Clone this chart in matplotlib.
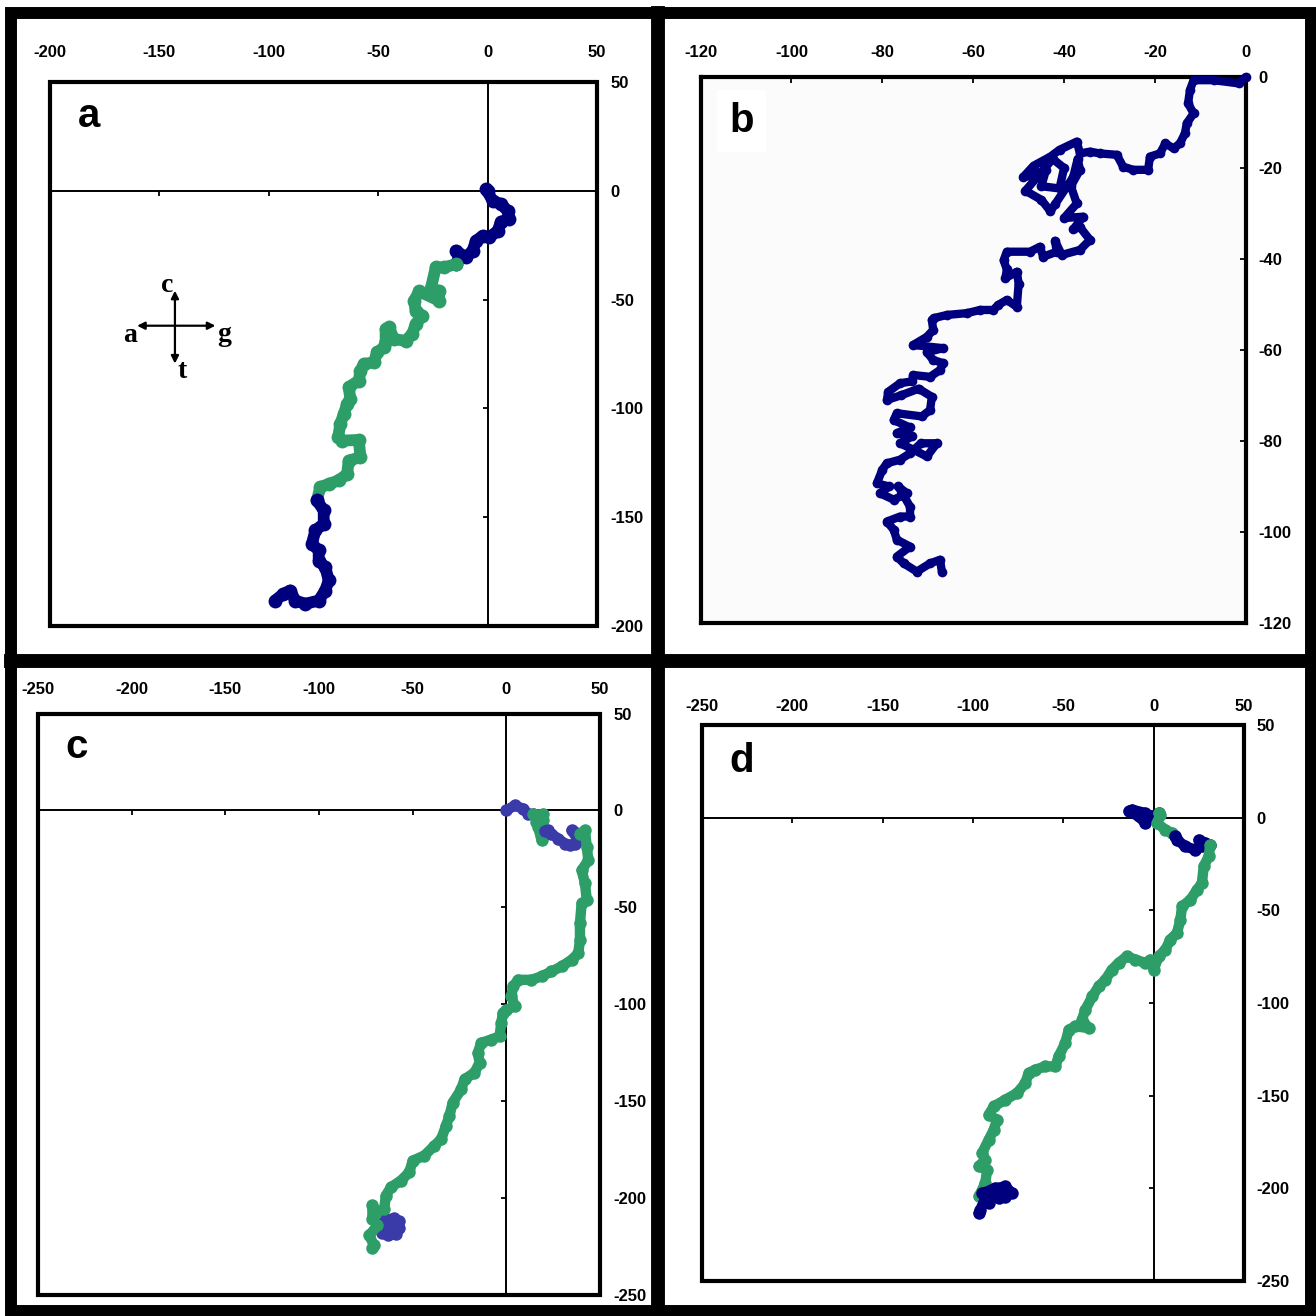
import matplotlib
matplotlib.use("Agg")
import matplotlib.pyplot as plt
from matplotlib.patches import Rectangle
from matplotlib.lines import Line2D

plt.rcParams['font.family'] = ['Liberation Sans', 'DejaVu Sans']
plt.rcParams['axes.unicode_minus'] = False

NAVY = '#00007f'
BLUE_C = '#3a3aa8'
GREEN = '#2e9e68'

# ---- panel a: walk coordinates ----
a_blue1_x = [0, -0.7, 2.3, 6.1, 9.2, 10.0, 6.1, 4.6, 0.8, -2.3, -5.3, -6.9, -9.9, -14.5, -13.0, -14.5]
a_blue1_y = [0, 0.8, -4.6, -6.1, -9.2, -13.0, -14.2, -18.4, -21.4, -20.7, -23.0, -27.5, -30.6, -27.5, -30.6, -33.7]
a_green_x = [-14.5, -19.9, -23.7, -26.0, -22.2, -22.2, -31.3, -33.6, -32.9, -29.8, -32.9, -34.4, -37.5,
             -42.8, -45.1, -46.6, -46.6, -47.4, -50.5, -52.0, -56.6, -58.1, -58.9, -63.5, -62.7, -64.2,
             -65.7, -67.3, -68.3, -66.5, -58.9, -58.1, -63.5, -64.2, -68.0, -72.6, -76.5, -78.0]
a_green_y = [-33.7, -35.2, -35.2, -45.1, -45.9, -50.5, -46.2, -50.5, -55.1, -57.4, -61.2, -65.8, -68.9,
             -68.2, -62.7, -63.5, -68.9, -71.9, -74.3, -78.8, -79.6, -82.6, -87.2, -90.3, -95.6, -98.0,
             -102.5, -107.1, -113.2, -114.8, -114.5, -122.4, -124.0, -130.1, -133.1, -134.7, -136.2, -142.3]
a_blue2_x = [-78.0, -74.9, -74.9, -78.7, -80.3, -77.2, -77.2, -74.2, -72.6, -74.2, -77.2, -83.3, -87.9,
             -90.2, -93.3, -97.1]
a_blue2_y = [-142.3, -146.9, -153.0, -156.1, -162.2, -165.3, -169.9, -173.0, -179.0, -183.7, -188.3,
             -189.8, -188.3, -183.7, -185.2, -188.3]

# ---- panel b ----
b_x = [0, -1.6, -7.1, -11.5, -12.3, -12.7, -11.5, -13.0, -13.4, -14.5, -15.9, -17.7, -18.9, -21.1, -21.5,
       -24.8, -27.0, -28.4, -32.1, -34.3, -36.5, -37.2, -41.0, -43.0, -46.7, -49.0, -46.0, -44.0, -45.0,
       -41.0, -40.0, -42.5, -48.5, -45.0, -43.0, -42.0, -38.0, -37.0, -36.5, -38.5, -37.2, -40.0, -35.8,
       -38.0, -36.5, -34.3, -36.5, -40.5, -42.0, -41.6, -44.6, -45.3, -47.5, -52.6, -53.3, -52.6, -52.9,
       -50.4, -50.0, -50.4, -52.6, -54.5, -55.6, -58.5, -61.4, -65.8, -68.7, -69.1, -68.8, -70.2, -73.2,
       -66.6, -70.2, -68.8, -66.6, -67.3, -69.5, -73.2, -73.5, -76.1, -78.7, -79.0, -76.0, -72.0, -69.1,
       -69.5, -71.3, -76.8, -77.5, -74.0, -76.8, -73.5, -76.1, -73.2, -70.2, -68.0, -71.5, -73.9, -76.1,
       -79.0, -80.0, -81.2, -78.5, -80.5, -77.5, -74.6, -76.5, -73.9, -73.9, -76.1, -79.0, -77.5, -76.8,
       -73.9, -76.8, -75.3, -72.4, -69.5, -67.3, -66.9]
b_y = [0, -1.4, -0.7, -0.7, -2.9, -5.8, -8.0, -10.2, -12.4, -14.6, -15.7, -14.6, -16.8, -17.5, -20.4,
       -20.4, -19.7, -17.1, -16.8, -16.4, -16.8, -14.2, -16.0, -17.5, -19.5, -22.0, -21.5, -20.5, -24.0,
       -24.5, -20.0, -18.0, -25.0, -27.0, -29.5, -28.0, -22.0, -18.0, -20.4, -24.0, -27.8, -31.0, -30.7,
       -33.5, -33.0, -35.8, -38.0, -39.1, -36.0, -38.4, -39.5, -37.3, -38.4, -38.4, -40.3, -42.3, -44.2,
       -42.8, -45.4, -50.5, -49.0, -50.1, -51.2, -51.2, -51.9, -52.3, -53.0, -53.4, -55.6, -57.1, -58.9,
       -59.6, -60.5, -62.2, -62.9, -64.4, -65.9, -65.5, -66.9, -67.3, -69.2, -71.0, -70.0, -68.5, -70.3,
       -73.2, -74.6, -73.9, -75.4, -77.0, -78.3, -79.0, -80.5, -81.9, -83.4, -80.5, -80.5, -82.7, -84.1,
       -84.9, -86.3, -89.3, -90.0, -91.5, -92.9, -91.5, -90.0, -94.4, -96.6, -96.6, -97.7, -99.5, -101.7,
       -103.2, -105.4, -106.9, -108.7, -106.9, -106.1, -108.7]

# ---- panel c ----
c_blue1_x = [0, 4.5, 8.9, 11.6, 14.5]
c_blue1_y = [0, 2.6, 0.9, -1.7, -2.0]
c_green1_x = [14.5, 17.0, 19.6, 19.6, 16.1, 17.0, 18.8, 20.5]
c_green1_y = [-2.0, -2.6, -1.7, -5.0, -6.0, -8.6, -15.4, -10.5]
c_blue2_x = [20.5, 22.3, 24.1, 27.7, 31.3, 33.9, 36.6, 38.4, 34.8, 39.3]
c_blue2_y = [-10.5, -10.3, -12.0, -14.6, -17.1, -18.0, -17.1, -15.4, -10.3, -12.0]
c_green2_x = [39.3, 42.0, 42.9, 43.8, 40.2, 42.0, 42.9, 40.2, 39.3, 39.3, 38.4, 34.8, 29.5, 24.1, 18.8,
              13.4, 6.3, 3.6, 2.7, 4.5, 0.0, -1.8, -2.7, -3.6, -8.0, -13.4, -15.2, -14.3, -17.0, -22.3,
              -24.1, -28.6, -30.4, -32.2, -34.8, -38.4, -43.8, -50.0, -51.8, -56.3, -61.6, -64.3, -65.2,
              -69.7, -71.5, -71.5, -68.8, -73.2, -70.6, -71.5]
c_green2_y = [-12.0, -10.3, -18.8, -25.7, -30.8, -37.7, -46.2, -48.0, -58.2, -66.8, -73.7, -77.1, -80.5,
              -83.1, -85.6, -87.4, -87.4, -90.8, -95.9, -101.1, -102.8, -104.5, -109.6, -116.5, -118.2,
              -119.9, -125.0, -130.2, -135.3, -138.7, -143.9, -150.7, -157.6, -162.7, -169.6, -173.0,
              -178.1, -180.7, -186.7, -191.0, -194.4, -198.7, -205.5, -207.3, -203.8, -210.7, -214.1,
              -219.3, -224.4, -226.0]
c_blue3_x = [-68.0, -64.0, -60.0, -57.5, -57.2, -59.0, -63.0, -66.5, -62.0, -67.0]
c_blue3_y = [-214.0, -211.0, -210.5, -212.0, -215.5, -218.5, -219.3, -218.0, -215.0, -216.0]

# ---- panel d ----
d_blue1_x = [0, -4.6, -12.0, -13.8, -8.3, -4.6, -0.9, 2.8]
d_blue1_y = [0, 2.5, 4.3, 3.4, 0.7, -2.9, 0.7, 2.5]
d_green1_x = [2.8, 3.7, 1.8, 6.5, 10.1, 12.0]
d_green1_y = [2.5, 1.6, -2.9, -6.5, -8.3, -10.0]
d_blue2_x = [12.0, 12.9, 17.5, 23.1, 26.7, 24.9, 28.5, 31.4]
d_blue2_y = [-10.0, -11.9, -15.5, -17.3, -15.5, -11.9, -13.5, -14.6]
d_green2_x = [31.4, 30.4, 27.7, 26.7, 24.0, 20.3, 15.7, 14.8, 12.9, 9.2, 6.5, 2.8, 0.0, -1.8, -4.6, -10.1,
              -14.8, -19.4, -23.1, -26.7, -30.4, -33.9, -37.8, -39.7, -36.0, -43.4, -47.0, -48.9, -52.6,
              -54.4, -60.0, -65.5, -69.2, -71.0, -75.6, -82.1, -88.5, -91.3, -86.7, -88.5, -91.3, -95.0,
              -93.2, -96.8, -92.2, -93.2, -96.8]
d_green2_y = [-14.6, -20.9, -26.3, -35.3, -38.9, -44.3, -47.9, -55.0, -62.2, -65.8, -71.2, -74.8, -82.0,
              -76.6, -78.4, -76.6, -74.8, -78.4, -82.0, -87.4, -91.0, -96.4, -103.6, -109.0, -113.5,
              -112.6, -114.4, -121.6, -128.8, -134.2, -134.2, -136.0, -137.8, -143.2, -148.6, -152.2,
              -155.8, -160.3, -163.0, -168.4, -173.8, -181.0, -184.5, -188.2, -190.0, -197.2, -204.4]
d_blue3_x = [-95.0, -90.0, -87.6, -82.1, -78.4, -82.5, -85.8, -89.0, -91.3, -93.5, -95.9, -96.8]
d_blue3_y = [-202.5, -201.0, -199.9, -199.0, -202.5, -204.5, -205.3, -203.0, -208.0, -206.0, -211.5, -213.3]

# ---- axis ticks ----
a_ticks = [-200, -150, -100, -50, 0, 50]
a_tick_labels = ['-200', '-150', '-100', '-50', '0', '50']
b_ticks = [-120, -100, -80, -60, -40, -20, 0]
b_tick_labels = ['-120', '-100', '-80', '-60', '-40', '-20', '0']
cd_ticks = [-250, -200, -150, -100, -50, 0, 50]
cd_tick_labels = ['-250', '-200', '-150', '-100', '-50', '0', '50']


def cross_axes(ax, ticks, labels, top_pad, right_pad):
    # axes cross at the origin, labels sit outside the frame (top / right)
    ax.set_xlim(ticks[0], ticks[-1])
    ax.set_ylim(ticks[0], ticks[-1])
    ax.spines['left'].set_position(('data', 0))
    ax.spines['bottom'].set_position(('data', 0))
    ax.spines['left'].set_linewidth(1.4)
    ax.spines['bottom'].set_linewidth(1.4)
    ax.spines['top'].set_visible(False)
    ax.spines['right'].set_visible(False)
    ax.set_xticks(ticks)
    ax.set_xticklabels(labels)
    ax.set_yticks(ticks)
    ax.set_yticklabels(labels)
    ax.tick_params(axis='x', bottom=True, top=False, labelbottom=False, labeltop=True,
                   direction='out', length=3.5, width=1.3, pad=top_pad)
    ax.tick_params(axis='y', left=True, right=False, labelleft=False, labelright=True,
                   direction='out', length=3.5, width=1.3, pad=right_pad)
    ax.add_patch(Rectangle((0, 0), 1, 1, transform=ax.transAxes, fill=False,
                           lw=3, ec='black', clip_on=False, zorder=6))
    for lab in ax.get_xticklabels() + ax.get_yticklabels():
        lab.set_fontweight('bold')
        lab.set_fontsize(12)


def walk(ax, x, y, color, lw=7.5, ms=9.0, z=3):
    ax.plot(x, y, '-o', color=color, lw=lw, ms=ms, mew=0,
            solid_joinstyle='round', solid_capstyle='round', zorder=z)


fig = plt.figure(figsize=(13.16, 13.16), dpi=100)
W = 1316.0


def place(left, top, right, bottom):
    return [left / W, 1 - bottom / W, (right - left) / W, (bottom - top) / W]


# panel a
ax_a = fig.add_axes(place(50, 82, 597, 626))
cross_axes(ax_a, a_ticks, a_tick_labels, 12, 5.9)
walk(ax_a, a_blue1_x, a_blue1_y, NAVY, 8.5, 10)
walk(ax_a, a_green_x, a_green_y, GREEN, 8.5, 10)
walk(ax_a, a_blue2_x, a_blue2_y, NAVY, 8.5, 10)
ax_a.text(0.051, 0.917, 'a', transform=ax_a.transAxes, fontsize=29, fontweight='bold',
          ha='left', va='baseline')
# compass of the walk directions
arrow = dict(arrowstyle='<|-|>', lw=1.6, color='black', mutation_scale=11,
             shrinkA=0, shrinkB=0)
ax_a.annotate('', xy=(-124.4, -62), xytext=(-160.2, -62), arrowprops=arrow)
ax_a.annotate('', xy=(-142.9, -45.9), xytext=(-142.9, -79.4), arrowprops=arrow)
serif = dict(family=['Liberation Serif', 'DejaVu Serif'], fontsize=20, fontweight='bold',
             ha='center', va='baseline')
ax_a.text(-146.3, -46.7, 'c', **serif)
ax_a.text(-163.6, -69.6, 'a', **serif)
ax_a.text(-120.5, -68.9, 'g', **serif)
ax_a.text(-139.6, -85.9, 't', **serif)

# panel b
ax_b = fig.add_axes(place(700.6, 77, 1245.8, 623))
ax_b.set_facecolor('#fbfbfb')
ax_b.set_xlim(-120, 0)
ax_b.set_ylim(-120, 0)
for s in ax_b.spines.values():
    s.set_linewidth(3)
ax_b.set_xticks(b_ticks)
ax_b.set_xticklabels(b_tick_labels)
ax_b.set_yticks(b_ticks)
ax_b.set_yticklabels(b_tick_labels)
ax_b.tick_params(axis='x', bottom=False, top=True, labelbottom=False, labeltop=True,
                 direction='in', length=4, width=1.3, pad=12.2)
ax_b.tick_params(axis='y', left=False, right=True, labelleft=False, labelright=True,
                 direction='in', length=4, width=1.3, pad=9.4)
for lab in ax_b.get_xticklabels() + ax_b.get_yticklabels():
    lab.set_fontweight('bold')
    lab.set_fontsize(12)
ax_b.plot(b_x, b_y, '-o', color=NAVY, lw=6, ms=7, mew=0,
          solid_joinstyle='round', solid_capstyle='round', zorder=3, clip_on=False)
ax_b.text(0.052, 0.90, 'b', transform=ax_b.transAxes, fontsize=29, fontweight='bold',
          ha='left', va='baseline',
          bbox=dict(boxstyle='square,pad=0.3', fc='white', ec='none'))

# panel c
ax_c = fig.add_axes(place(38, 713.5, 600, 1295))
cross_axes(ax_c, cd_ticks, cd_tick_labels, 8.4, 6.3)
walk(ax_c, c_blue1_x, c_blue1_y, BLUE_C)
walk(ax_c, c_green1_x, c_green1_y, GREEN)
walk(ax_c, c_blue2_x, c_blue2_y, BLUE_C)
walk(ax_c, c_blue3_x, c_blue3_y, BLUE_C, z=3)
walk(ax_c, c_green2_x, c_green2_y, GREEN, z=4)
ax_c.text(0.048, 0.923, 'c', transform=ax_c.transAxes, fontsize=29, fontweight='bold',
          ha='left', va='baseline')

# panel d
ax_d = fig.add_axes(place(702, 725, 1244, 1281))
cross_axes(ax_d, cd_ticks, cd_tick_labels, 4.1, 5.2)
walk(ax_d, d_blue1_x, d_blue1_y, NAVY)
walk(ax_d, d_green1_x, d_green1_y, GREEN)
walk(ax_d, d_blue2_x, d_blue2_y, NAVY)
walk(ax_d, d_green2_x, d_green2_y, GREEN)
walk(ax_d, d_blue3_x, d_blue3_y, NAVY, z=4)
ax_d.text(0.05, 0.915, 'd', transform=ax_d.transAxes, fontsize=29, fontweight='bold',
          ha='left', va='baseline')

# heavy frame around the whole figure and the panel dividers
top_y, bot_y = 1 - 13 / W, 1 - 1311 / W
fig.add_artist(Rectangle((10.5 / W, bot_y), (1311 - 10.5) / W, top_y - bot_y,
                         transform=fig.transFigure, fill=False, lw=8.6, ec='black'))
fig.add_artist(Line2D([658 / W, 658 / W], [bot_y, top_y], transform=fig.transFigure,
                      lw=10, color='black'))
fig.add_artist(Line2D([10.5 / W, 1311 / W], [1 - 661 / W, 1 - 661 / W],
                      transform=fig.transFigure, lw=10, color='black'))

fig.savefig('out.png', dpi=100)
